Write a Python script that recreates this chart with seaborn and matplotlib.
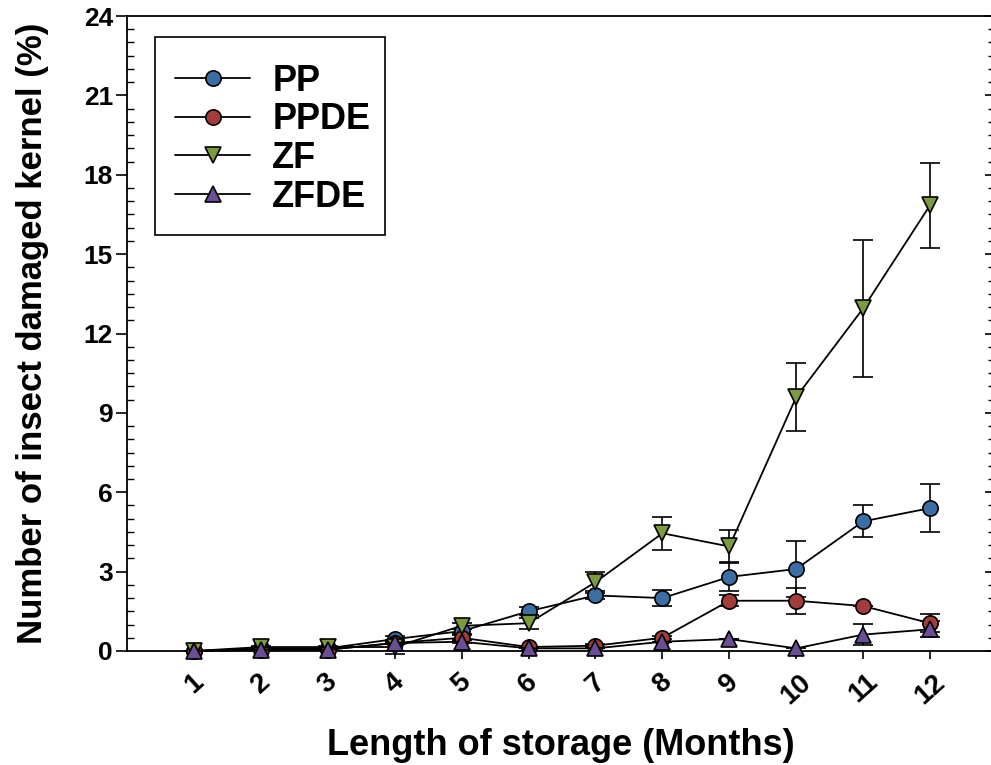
import matplotlib
matplotlib.use("Agg")
import matplotlib.pyplot as plt
import seaborn as sns
import pandas as pd
import numpy as np
from matplotlib.ticker import MultipleLocator
from matplotlib.patches import Rectangle

months = [1, 2, 3, 4, 5, 6, 7, 8, 9, 10, 11, 12]
series_names = ["PP", "PPDE", "ZF", "ZFDE"]

pp = [0.0, 0.1, 0.1, 0.45, 0.75, 1.5, 2.1, 2.0, 2.8, 3.1, 4.9, 5.4]
pp_err = [0.0, 0.05, 0.05, 0.1, 0.1, 0.15, 0.15, 0.3, 0.55, 1.05, 0.6, 0.9]
ppde = [0.0, 0.05, 0.05, 0.3, 0.5, 0.15, 0.2, 0.5, 1.9, 1.9, 1.7, 1.05]
ppde_err = [0.0, 0.0, 0.0, 0.05, 0.1, 0.0, 0.05, 0.05, 0.2, 0.5, 0.0, 0.35]
zf = [0.0, 0.15, 0.15, 0.15, 0.95, 1.05, 2.6, 4.45, 3.95, 9.6, 12.95, 16.85]
zf_err = [0.0, 0.05, 0.05, 0.25, 0.1, 0.2, 0.4, 0.62, 0.64, 1.27, 2.6, 1.6]
zfde = [0.0, 0.05, 0.05, 0.3, 0.35, 0.1, 0.1, 0.35, 0.45, 0.1, 0.62, 0.82]
zfde_err = [0.0, 0.0, 0.0, 0.05, 0.05, 0.0, 0.0, 0.0, 0.0, 0.0, 0.4, 0.3]

values = {"PP": pp, "PPDE": ppde, "ZF": zf, "ZFDE": zfde}
errors = {"PP": pp_err, "PPDE": ppde_err, "ZF": zf_err, "ZFDE": zfde_err}
colors = {"PP": "#3C6EA6", "PPDE": "#A53C3C", "ZF": "#7B9B3C", "ZFDE": "#6A4F96"}
markers = {"PP": "o", "PPDE": "o", "ZF": "v", "ZFDE": "^"}

sns.set_style("ticks")
plt.rcParams["font.family"] = ["Liberation Sans", "DejaVu Sans"]
plt.rcParams["font.weight"] = "bold"
for k in ["text.color", "axes.labelcolor", "xtick.color", "ytick.color", "axes.edgecolor"]:
    plt.rcParams[k] = "black"

fig = plt.figure(figsize=(9.91, 7.65), dpi=100)
W, H = 991, 765
left, right, top, bottom = 127, 995, 16, 651
ax = fig.add_axes([left / W, (H - bottom) / H, (right - left) / W, (bottom - top) / H])

for name in series_names:
    df = pd.DataFrame({"month": months, "value": values[name], "err": errors[name]})
    eb = ax.errorbar(df["month"], df["value"], yerr=df["err"], fmt="none",
                     ecolor="black", elinewidth=1.2, capsize=7, capthick=1.2, zorder=2)
    for art in eb.lines[1] + eb.lines[2]:
        art.set_clip_on(False)
    sns.lineplot(data=df, x="month", y="value", ax=ax, color="black",
                 linewidth=1.3, marker=markers[name], markersize=11,
                 markerfacecolor=colors[name], markeredgecolor="black",
                 markeredgewidth=1.2, label=name, zorder=3, clip_on=False)

ax.set_xlim(0, 12.97)
ax.set_ylim(0, 24)
ax.set_xticks(months)
ax.set_xticklabels([str(m) for m in months], rotation=42, ha="center",
                   fontsize=20, fontweight="bold")
ax.set_yticks(np.arange(0, 25, 3))
ax.set_yticklabels([str(v) for v in range(0, 25, 3)], fontsize=19, fontweight="bold")
ax.yaxis.set_minor_locator(MultipleLocator(0.5))

ax.tick_params(axis="x", which="major", direction="out", length=6, width=1.2, pad=7)
ax.tick_params(axis="y", which="major", direction="out", length=8, width=1.2, pad=2)
ax.tick_params(axis="y", which="minor", direction="in", length=5, width=1.0)

# right-hand inward ticks (spine itself lies just past the figure edge)
ax2 = ax.twinx()
ax2.set_ylim(0, 24)
ax2.yaxis.set_major_locator(MultipleLocator(3))
ax2.yaxis.set_minor_locator(MultipleLocator(0.5))
ax2.tick_params(axis="y", which="major", direction="in", length=7, width=1.2, labelright=False)
ax2.tick_params(axis="y", which="minor", direction="in", length=5, width=1.0)
for s in ax2.spines.values():
    s.set_visible(False)

for s in ["left", "bottom", "top", "right"]:
    ax.spines[s].set_visible(True)
    ax.spines[s].set_linewidth(1.3)
    ax.spines[s].set_color("black")

ax.set_xlabel("Length of storage (Months)", fontsize=26, fontweight="bold", labelpad=14)
ax.set_ylabel("Number of insect damaged kernel (%)", fontsize=25, fontweight="bold", labelpad=25)

# legend frame box
frame = Rectangle((0.0323, 0.6551), 0.2649, 0.3118, transform=ax.transAxes,
                  facecolor="white", edgecolor="black", linewidth=1.2, zorder=4)
ax.add_patch(frame)
leg = ax.legend(loc="upper left", bbox_to_anchor=(0.032, 0.956), borderaxespad=0,
                frameon=False,
                prop={"family": ["Liberation Sans"], "weight": "bold", "size": 26},
                handlelength=2.1, handletextpad=0.6, labelspacing=0.10,
                borderpad=0.55)
leg.set_zorder(5)

fig.savefig("out.png", dpi=100)
